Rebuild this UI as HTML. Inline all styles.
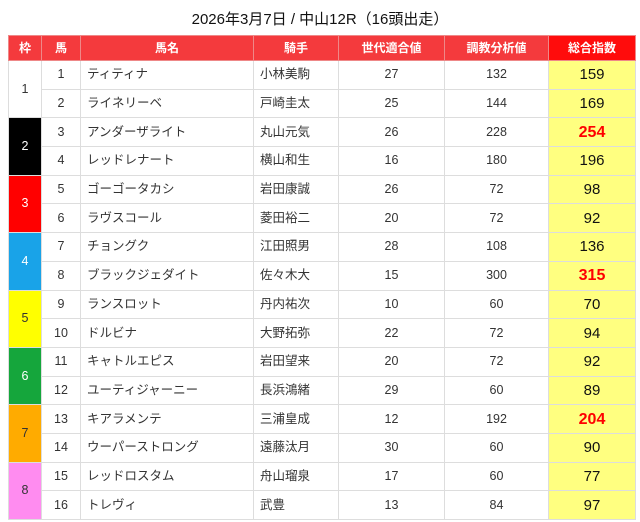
<!DOCTYPE html>
<html><head><meta charset="utf-8"><style>
body{margin:0;width:640px;height:522px;background:#fff;font-family:"Liberation Sans","Noto Sans CJK JP",sans-serif;overflow:hidden;position:relative}
.t{position:absolute;top:8px;left:0;width:640px;text-align:center;font-size:15px;color:#111}
table{position:absolute;left:8px;top:35px;border-collapse:collapse;table-layout:fixed;width:627px}
td,th{border:1px solid #ddd;font-size:12.5px;line-height:15px;color:#333;padding:0;text-align:center;vertical-align:middle;box-sizing:border-box}
tr{height:28.7px}
tr.h{height:25px}
th{background:#f43a3d;color:#fff;font-weight:bold;font-size:12px;border:1px solid #e88}
th.s{background:#ff0c0c}
td.n{text-align:left;padding-left:6px}
td.y{background:#ffff80;font-size:15px;color:#111}
td.r{color:#f00;font-weight:bold;font-size:16px}
</style></head><body>
<div class="t">2026年3月7日 / 中山12R（16頭出走）</div>
<table>
<colgroup><col style="width:33px"><col style="width:39px"><col style="width:173px"><col style="width:85px"><col style="width:106px"><col style="width:104px"><col style="width:87px"></colgroup>
<tr class="h"><th>枠</th><th>馬</th><th>馬名</th><th>騎手</th><th>世代適合値</th><th>調教分析値</th><th class="s">総合指数</th></tr>
<tr><td rowspan="2" style="background:#fff">1</td><td>1</td><td class="n">ティティナ</td><td class="n">小林美駒</td><td>27</td><td>132</td><td class="y">159</td></tr>
<tr><td>2</td><td class="n">ライネリーベ</td><td class="n">戸崎圭太</td><td>25</td><td>144</td><td class="y">169</td></tr>
<tr><td rowspan="2" style="background:#000;color:#fff">2</td><td>3</td><td class="n">アンダーザライト</td><td class="n">丸山元気</td><td>26</td><td>228</td><td class="y r">254</td></tr>
<tr><td>4</td><td class="n">レッドレナート</td><td class="n">横山和生</td><td>16</td><td>180</td><td class="y">196</td></tr>
<tr><td rowspan="2" style="background:#ff0000;color:#fff">3</td><td>5</td><td class="n">ゴーゴータカシ</td><td class="n">岩田康誠</td><td>26</td><td>72</td><td class="y">98</td></tr>
<tr><td>6</td><td class="n">ラヴスコール</td><td class="n">菱田裕二</td><td>20</td><td>72</td><td class="y">92</td></tr>
<tr><td rowspan="2" style="background:#19a3e8;color:#fff">4</td><td>7</td><td class="n">チョングク</td><td class="n">江田照男</td><td>28</td><td>108</td><td class="y">136</td></tr>
<tr><td>8</td><td class="n">ブラックジェダイト</td><td class="n">佐々木大</td><td>15</td><td>300</td><td class="y r">315</td></tr>
<tr><td rowspan="2" style="background:#ffff00">5</td><td>9</td><td class="n">ランスロット</td><td class="n">丹内祐次</td><td>10</td><td>60</td><td class="y">70</td></tr>
<tr><td>10</td><td class="n">ドルビナ</td><td class="n">大野拓弥</td><td>22</td><td>72</td><td class="y">94</td></tr>
<tr><td rowspan="2" style="background:#15a63c;color:#fff">6</td><td>11</td><td class="n">キャトルエピス</td><td class="n">岩田望来</td><td>20</td><td>72</td><td class="y">92</td></tr>
<tr><td>12</td><td class="n">ユーティジャーニー</td><td class="n">長浜鴻緒</td><td>29</td><td>60</td><td class="y">89</td></tr>
<tr><td rowspan="2" style="background:#ffab00">7</td><td>13</td><td class="n">キアラメンテ</td><td class="n">三浦皇成</td><td>12</td><td>192</td><td class="y r">204</td></tr>
<tr><td>14</td><td class="n">ウーパーストロング</td><td class="n">遠藤汰月</td><td>30</td><td>60</td><td class="y">90</td></tr>
<tr><td rowspan="2" style="background:#ff8cf0">8</td><td>15</td><td class="n">レッドロスタム</td><td class="n">舟山瑠泉</td><td>17</td><td>60</td><td class="y">77</td></tr>
<tr><td>16</td><td class="n">トレヴィ</td><td class="n">武豊</td><td>13</td><td>84</td><td class="y">97</td></tr>
</table>
</body></html>
